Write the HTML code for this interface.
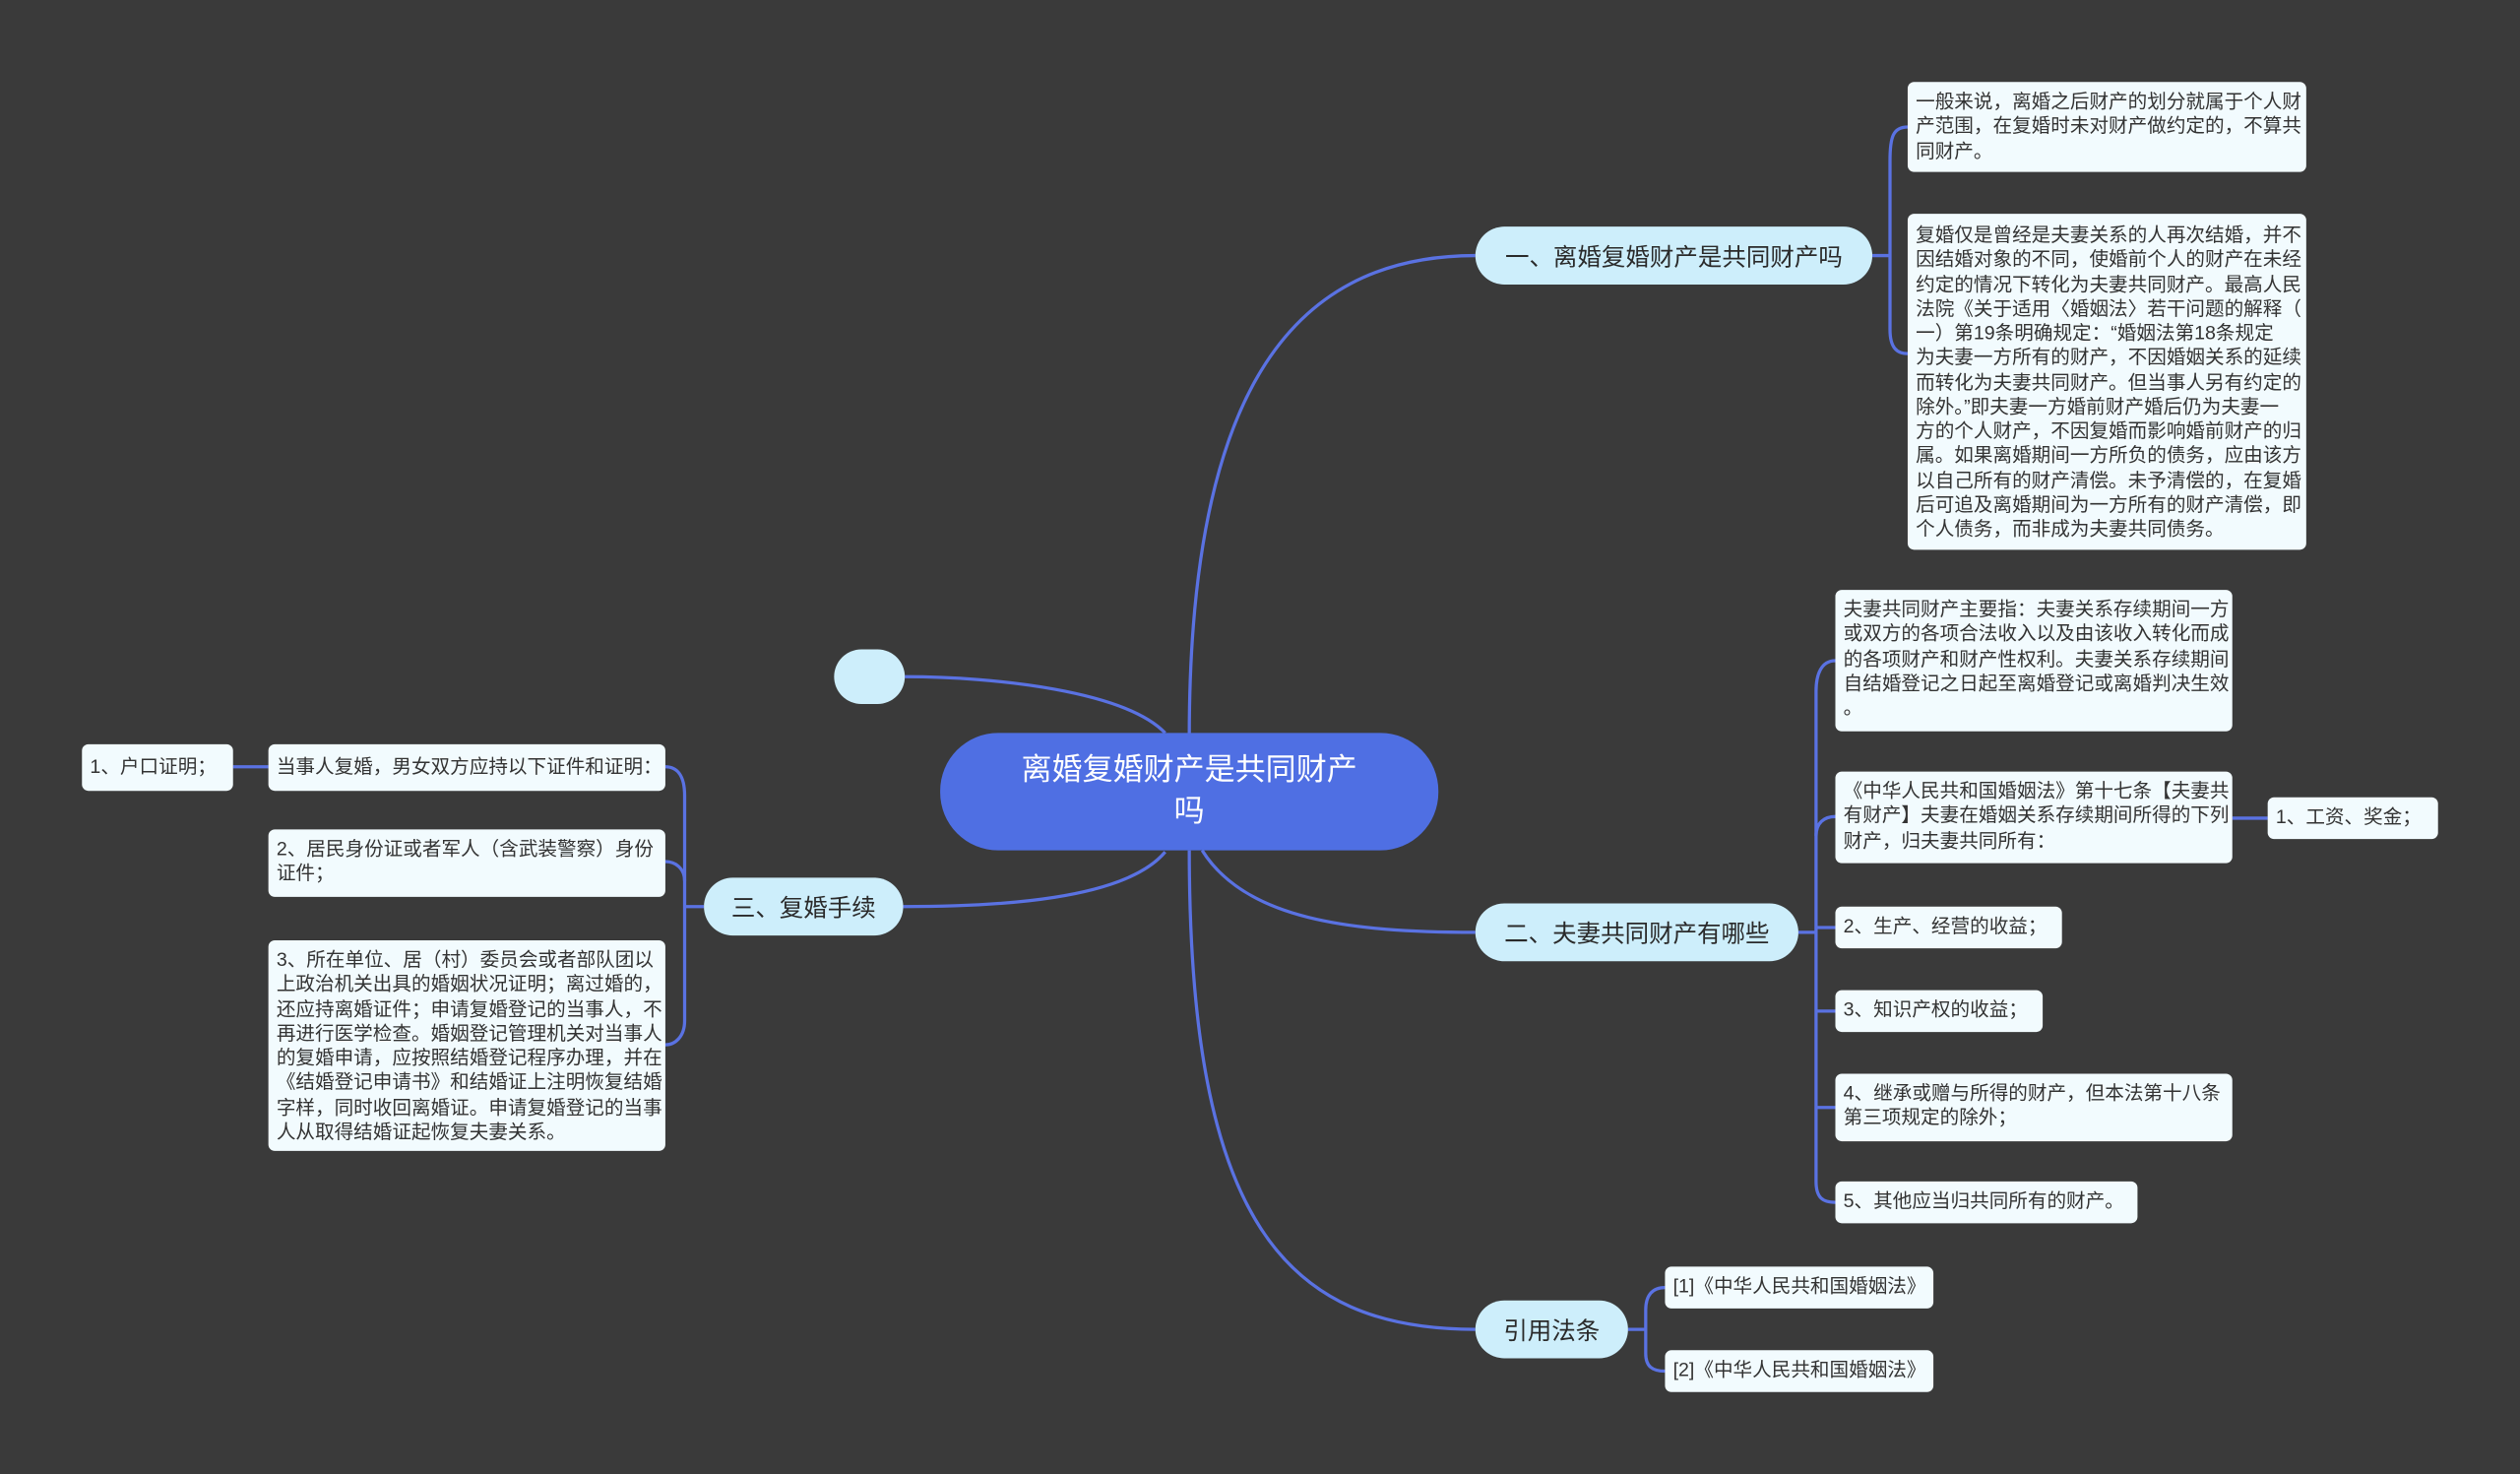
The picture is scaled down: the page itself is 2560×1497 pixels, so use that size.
<!DOCTYPE html>
<html><head><meta charset="utf-8"><style>
html,body{margin:0;padding:0;background:#3a3a3a;}
#wrap{position:absolute;left:0;top:0;width:2560px;height:1497px;overflow:hidden;background:#3a3a3a;}
#s{position:absolute;left:0;top:0;width:1568px;height:917px;transform:scale(1.63265,1.6325);transform-origin:0 0;font-family:"Liberation Sans","Noto Sans CJK SC",sans-serif;}
.n{position:absolute;box-sizing:border-box;color:#222;}
.b{background:#cdeefb;border-radius:18px;font-size:15px;display:flex;align-items:center;justify-content:center;white-space:nowrap;color:#2a2a2a;}
.t{background:#f2fbfe;border-radius:4px;font-size:12px;line-height:15.25px;padding:5px 5px;white-space:nowrap;color:#333;}
.c{background:#4f6fe3;border-radius:36px;color:#fff;font-size:19px;line-height:26px;text-align:center;display:flex;align-items:center;justify-content:center;}
svg{position:absolute;left:0;top:0;}
</style></head><body><div id="wrap"><div id="s">
<svg width="1568" height="917" viewBox="0 0 1568 917" fill="none" stroke="#5a72e2" stroke-width="2">
<path d="M740 458 C740 250 800 159 918 159"/>
<path d="M748 529 C775 572 840 580 918 580"/>
<path d="M740 529 C740 760 800 827 918 827"/>
<path d="M725 456 C700 430 620 421 563 421"/>
<path d="M725 530 C700 560 620 564 562 564"/>
<path d="M1165 159 H1176"/>
<path d="M1187 79 C1178 79 1176 85 1176 100 V205 C1176 216 1180 220 1187 220"/>
<path d="M1119 580 H1130"/>
<path d="M1142 411 C1133 411 1130 420 1130 430 V735 C1130 745 1134 748 1142 748"/>
<path d="M1130 520 C1130 512 1135 508 1142 508"/>
<path d="M1130 577 H1142"/><path d="M1130 629 H1142"/><path d="M1130 689 H1142"/>
<path d="M1389 509 H1411"/>
<path d="M1013 827 H1024"/>
<path d="M1036 801 C1028 801 1024 806 1024 815 V842 C1024 850 1028 853 1036 853"/>
<path d="M438 564 H426"/>
<path d="M414 477 C421 477 426 482 426 495 V635 C426 645 420 650 414 650"/>
<path d="M414 536 C420 536 426 540 426 548"/>
<path d="M167 477 H145"/>
</svg>
<div class="n c" style="left:585px;top:456px;width:310px;height:73px;">离婚复婚财产是共同财产<br>吗</div>
<div class="n b" style="left:519px;top:404px;width:44px;height:34px;"></div>
<div class="n b" style="left:918px;top:141px;width:247px;height:36px;">一、离婚复婚财产是共同财产吗</div>
<div class="n t" style="left:1187px;top:51px;width:248px;height:56px;">一般来说，离婚之后财产的划分就属于个人财<br>产范围，在复婚时未对财产做约定的，不算共<br>同财产。</div>
<div class="n t" style="left:1187px;top:133px;width:248px;height:209px;padding-top:6px;">复婚仅是曾经是夫妻关系的人再次结婚，并不<br>因结婚对象的不同，使婚前个人的财产在未经<br>约定的情况下转化为夫妻共同财产。最高人民<br>法院《关于适用〈婚姻法〉若干问题的解释（<br>一）第19条明确规定：“婚姻法第18条规定<br>为夫妻一方所有的财产，不因婚姻关系的延续<br>而转化为夫妻共同财产。但当事人另有约定的<br>除外。”即夫妻一方婚前财产婚后仍为夫妻一<br>方的个人财产，不因复婚而影响婚前财产的归<br>属。如果离婚期间一方所负的债务，应由该方<br>以自己所有的财产清偿。未予清偿的，在复婚<br>后可追及离婚期间为一方所有的财产清偿，即<br>个人债务，而非成为夫妻共同债务。</div>
<div class="n b" style="left:918px;top:562px;width:201px;height:36px;">二、夫妻共同财产有哪些</div>
<div class="n t" style="left:1142px;top:367px;width:247px;height:88px;">夫妻共同财产主要指：夫妻关系存续期间一方<br>或双方的各项合法收入以及由该收入转化而成<br>的各项财产和财产性权利。夫妻关系存续期间<br>自结婚登记之日起至离婚登记或离婚判决生效<br>。</div>
<div class="n t" style="left:1142px;top:480px;width:247px;height:57px;">《中华人民共和国婚姻法》第十七条【夫妻共<br>有财产】夫妻在婚姻关系存续期间所得的下列<br>财产，归夫妻共同所有：</div>
<div class="n t" style="left:1411px;top:496px;width:106px;height:26px;">1、工资、奖金；</div>
<div class="n t" style="left:1142px;top:564px;width:141px;height:26px;">2、生产、经营的收益；</div>
<div class="n t" style="left:1142px;top:616px;width:129px;height:26px;">3、知识产权的收益；</div>
<div class="n t" style="left:1142px;top:668px;width:247px;height:42px;">4、继承或赠与所得的财产，但本法第十八条<br>第三项规定的除外；</div>
<div class="n t" style="left:1142px;top:735px;width:188px;height:26px;">5、其他应当归共同所有的财产。</div>
<div class="n b" style="left:918px;top:809px;width:95px;height:36px;">引用法条</div>
<div class="n t" style="left:1036px;top:788px;width:167px;height:26px;">[1]《中华人民共和国婚姻法》</div>
<div class="n t" style="left:1036px;top:840px;width:167px;height:26px;">[2]《中华人民共和国婚姻法》</div>
<div class="n b" style="left:438px;top:546px;width:124px;height:36px;">三、复婚手续</div>
<div class="n t" style="left:167px;top:463px;width:247px;height:29px;padding-top:7px;">当事人复婚，男女双方应持以下证件和证明：</div>
<div class="n t" style="left:167px;top:516px;width:247px;height:42px;">2、居民身份证或者军人（含武装警察）身份<br>证件；</div>
<div class="n t" style="left:167px;top:585px;width:247px;height:131px;">3、所在单位、居（村）委员会或者部队团以<br>上政治机关出具的婚姻状况证明；离过婚的，<br>还应持离婚证件；申请复婚登记的当事人，不<br>再进行医学检查。婚姻登记管理机关对当事人<br>的复婚申请，应按照结婚登记程序办理，并在<br>《结婚登记申请书》和结婚证上注明恢复结婚<br>字样，同时收回离婚证。申请复婚登记的当事<br>人从取得结婚证起恢复夫妻关系。</div>
<div class="n t" style="left:51px;top:463px;width:94px;height:29px;padding-top:7px;">1、户口证明；</div>
</div></div></body></html>
